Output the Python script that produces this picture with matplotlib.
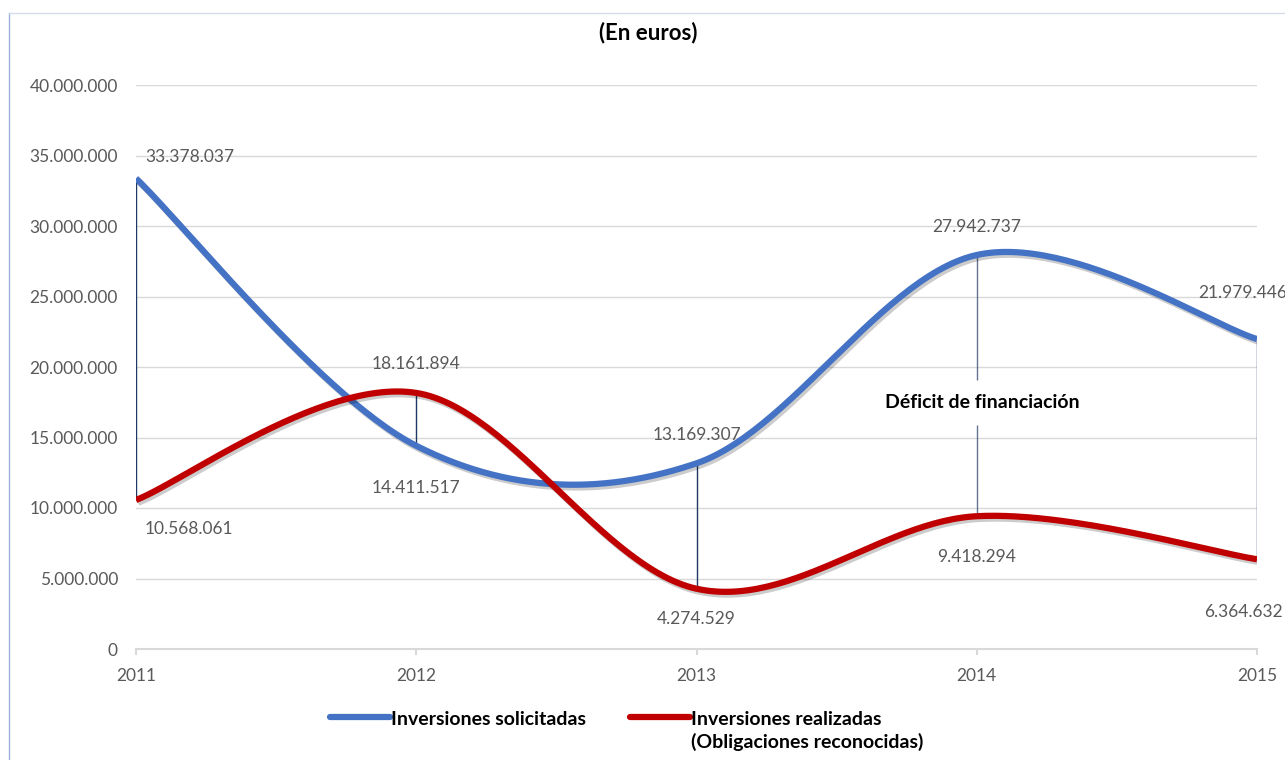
import matplotlib
matplotlib.use("Agg")
import matplotlib.pyplot as plt
import matplotlib.patheffects as pe
from matplotlib.lines import Line2D
from matplotlib.ticker import FuncFormatter
import numpy as np

YEARS = ["2011", "2012", "2013", "2014", "2015"]
SOLICITADAS = [33378037, 14411517, 13169307, 27942737, 21979446]
REALIZADAS = [10568061, 18161894, 4274529, 9418294, 6364632]

BLUE = "#4472C4"
RED = "#C00000"
NAVY = "#1F3864"
LABEL_GREY = "#595959"
GRID_GREY = "#D9D9D9"

plt.rcParams["font.family"] = ["Lato", "DejaVu Sans"]


def fmt_es(v):
    return f"{int(round(v)):,}".replace(",", ".")


def smooth(xs, ys, steps=60):
    # Bezier smoothing in the style of spreadsheet "smoothed lines"
    pts = np.column_stack([xs, ys]).astype(float)
    n = len(pts)
    out = []
    for i in range(n - 1):
        p0 = pts[i - 1] if i > 0 else pts[i]
        p1 = pts[i]
        p2 = pts[i + 1]
        p3 = pts[i + 2] if i + 2 < n else pts[i + 1]
        c1 = p1 + (p2 - p0) / 6.0
        c2 = p2 - (p3 - p1) / 6.0
        t = np.linspace(0, 1, steps)[:, None]
        seg = ((1 - t) ** 3) * p1 + 3 * ((1 - t) ** 2) * t * c1 \
            + 3 * (1 - t) * t ** 2 * c2 + t ** 3 * p2
        out.append(seg if i == 0 else seg[1:])
    seg = np.vstack(out)
    return seg[:, 0], seg[:, 1]


fig = plt.figure(figsize=(12.85, 7.6), dpi=100)
ax = fig.add_axes([136 / 1285, 1 - 649 / 760, (1257 - 136) / 1285, (649 - 85) / 760])

x = np.arange(len(YEARS))
lo = np.minimum(SOLICITADAS, REALIZADAS)
hi = np.maximum(SOLICITADAS, REALIZADAS)

# high-low lines between the two series; the 2014 one leaves room for the note
for i in range(len(x)):
    if YEARS[i] == "2014":
        ax.vlines(x[i], lo[i], 15.9e6, color=NAVY, lw=1, alpha=0.7, zorder=2)
        ax.vlines(x[i], 19.1e6, hi[i], color=NAVY, lw=1, alpha=0.7, zorder=2)
    else:
        ax.vlines(x[i], lo[i], hi[i], color=NAVY, lw=1, zorder=2)

shadow = [pe.SimpleLineShadow(offset=(1.5, -2), shadow_color="black", alpha=0.2),
          pe.Normal()]
sx, sy = smooth(x, SOLICITADAS)
ax.plot(sx, sy, color=BLUE, lw=4.5, solid_capstyle="butt", zorder=3,
        path_effects=shadow)
rx, ry = smooth(x, REALIZADAS)
ax.plot(rx, ry, color=RED, lw=4.5, solid_capstyle="butt", zorder=4,
        path_effects=shadow)

# data labels (offsets in pixels from the point)
blue_off = [(9, 21, "left"), (0, -42, "center"), (0, 28, "center"),
            (0, 28, "center"), (-14, 46, "center")]
red_off = [(9, -29, "left"), (0, 29, "center"), (0, -30, "center"),
           (0, -41, "center"), (-14, -53, "center")]
for vals, offs in ((SOLICITADAS, blue_off), (REALIZADAS, red_off)):
    for xi, v, (dx, dy, ha) in zip(x, vals, offs):
        ax.annotate(fmt_es(v), (xi, v), xytext=(dx, dy), textcoords="offset pixels",
                    ha=ha, va="center", fontsize=12.5, color=LABEL_GREY,
                    annotation_clip=False, zorder=5)

ax.text(3.02, 17.5e6, "Déficit de financiación", ha="center", va="center",
        fontsize=14, fontweight="bold", color="black", zorder=5)

ax.set_xlim(0, len(YEARS) - 1)
ax.set_ylim(0, 40e6)
ax.set_yticks(np.arange(0, 40e6 + 1, 5e6))
ax.yaxis.set_major_formatter(FuncFormatter(lambda v, _: fmt_es(v)))
ax.set_xticks(x)
ax.set_xticklabels(YEARS)
ax.grid(axis="y", color=GRID_GREY, lw=1)
ax.set_axisbelow(True)
for side in ("top", "right", "left"):
    ax.spines[side].set_visible(False)
ax.spines["bottom"].set_color(GRID_GREY)
ax.spines["bottom"].set_linewidth(1.5)
ax.tick_params(axis="y", length=0, pad=13, labelsize=12.5, labelcolor=LABEL_GREY)
ax.tick_params(axis="x", length=4, width=1.5, color=GRID_GREY, pad=10,
               labelsize=12.5, labelcolor=LABEL_GREY)

fig.text(648 / 1285, 1 - 33 / 760, "(En euros)", ha="center", va="center",
         fontsize=16, fontweight="bold")

# legend drawn in figure coordinates
def legend_item(x0, label, color):
    y = 1 - 717 / 760
    fig.add_artist(Line2D([x0 / 1285, (x0 + 60) / 1285], [y, y], color=color,
                          lw=4.5, solid_capstyle="round"))
    fig.text((x0 + 61) / 1285, y + 0.008, label, ha="left", va="top",
             fontsize=14, fontweight="bold", linespacing=1.3)


legend_item(330, "Inversiones solicitadas", BLUE)
legend_item(630, "Inversiones realizadas\n(Obligaciones reconocidas)", RED)

# outer frame on the left and top
fig.add_artist(Line2D([9 / 1285, 9 / 1285], [0, 1 - 13 / 760], color="#9DB3DD", lw=1))
fig.add_artist(Line2D([9 / 1285, 1], [1 - 13 / 760, 1 - 13 / 760], color="#D5DCEA", lw=1))

fig.savefig("out.png", dpi=100)
